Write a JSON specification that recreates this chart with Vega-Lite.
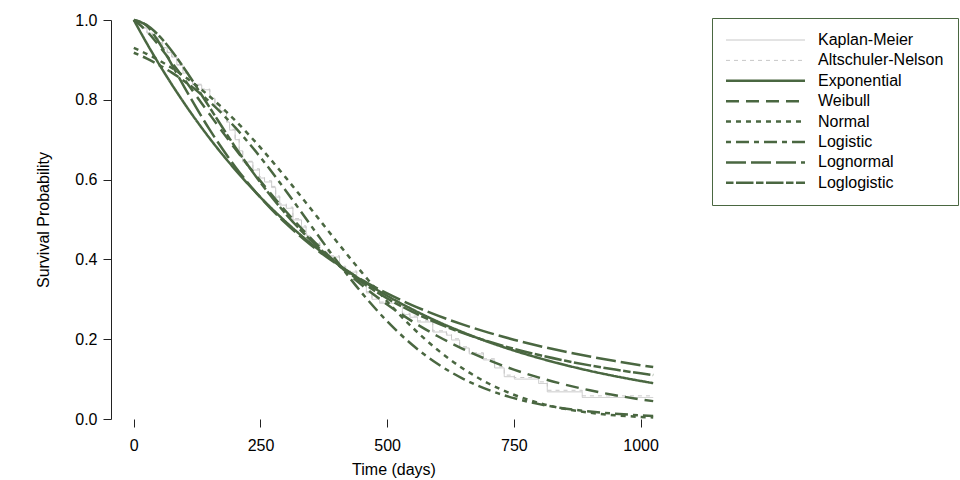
{
  "$schema": "https://vega.github.io/schema/vega-lite/v6.json",
  "width": 565,
  "height": 399,
  "autosize": {"type": "none"},
  "padding": {"left": 111, "top": 20, "right": 284, "bottom": 61},
  "config": {
    "view": {"stroke": null},
    "font": "Liberation Sans",
    "axis": {
      "grid": false,
      "domainColor": "#222",
      "tickColor": "#222",
      "tickSize": 8,
      "labelFontSize": 16,
      "labelColor": "#000",
      "titleFontSize": 16,
      "titleFontWeight": "normal",
      "titleColor": "#000"
    },
    "legend": {
      "orient": "none",
      "legendX": 601,
      "legendY": -2,
      "padding": 14,
      "rowPadding": 4.4,
      "symbolSize": 100,
      "symbolOffset": 31.5,
      "labelOffset": 44.5,
      "labelFontSize": 16,
      "labelColor": "#000",
      "labelLimit": 300,
      "strokeColor": "#4a6741"
    }
  },
  "datasets": {
    "km": [
      {"m": "Kaplan-Meier", "t": 0, "s": 1.0},
      {"m": "Kaplan-Meier", "t": 5, "s": 0.99},
      {"m": "Kaplan-Meier", "t": 15, "s": 0.98},
      {"m": "Kaplan-Meier", "t": 26, "s": 0.967},
      {"m": "Kaplan-Meier", "t": 37, "s": 0.955},
      {"m": "Kaplan-Meier", "t": 48, "s": 0.942},
      {"m": "Kaplan-Meier", "t": 57, "s": 0.93},
      {"m": "Kaplan-Meier", "t": 66, "s": 0.918},
      {"m": "Kaplan-Meier", "t": 75, "s": 0.907},
      {"m": "Kaplan-Meier", "t": 85, "s": 0.887},
      {"m": "Kaplan-Meier", "t": 97, "s": 0.867},
      {"m": "Kaplan-Meier", "t": 108, "s": 0.85},
      {"m": "Kaplan-Meier", "t": 116, "s": 0.837},
      {"m": "Kaplan-Meier", "t": 134, "s": 0.825},
      {"m": "Kaplan-Meier", "t": 150, "s": 0.804},
      {"m": "Kaplan-Meier", "t": 160, "s": 0.787},
      {"m": "Kaplan-Meier", "t": 170, "s": 0.77},
      {"m": "Kaplan-Meier", "t": 183, "s": 0.744},
      {"m": "Kaplan-Meier", "t": 189, "s": 0.724},
      {"m": "Kaplan-Meier", "t": 200, "s": 0.7},
      {"m": "Kaplan-Meier", "t": 208, "s": 0.672},
      {"m": "Kaplan-Meier", "t": 215, "s": 0.644},
      {"m": "Kaplan-Meier", "t": 235, "s": 0.624},
      {"m": "Kaplan-Meier", "t": 248, "s": 0.604},
      {"m": "Kaplan-Meier", "t": 258, "s": 0.594},
      {"m": "Kaplan-Meier", "t": 272, "s": 0.58},
      {"m": "Kaplan-Meier", "t": 280, "s": 0.556},
      {"m": "Kaplan-Meier", "t": 288, "s": 0.536},
      {"m": "Kaplan-Meier", "t": 301, "s": 0.528},
      {"m": "Kaplan-Meier", "t": 314, "s": 0.499},
      {"m": "Kaplan-Meier", "t": 331, "s": 0.481},
      {"m": "Kaplan-Meier", "t": 340, "s": 0.46},
      {"m": "Kaplan-Meier", "t": 347, "s": 0.44},
      {"m": "Kaplan-Meier", "t": 367, "s": 0.418},
      {"m": "Kaplan-Meier", "t": 386, "s": 0.406},
      {"m": "Kaplan-Meier", "t": 406, "s": 0.38},
      {"m": "Kaplan-Meier", "t": 418, "s": 0.368},
      {"m": "Kaplan-Meier", "t": 440, "s": 0.345},
      {"m": "Kaplan-Meier", "t": 459, "s": 0.316},
      {"m": "Kaplan-Meier", "t": 470, "s": 0.3},
      {"m": "Kaplan-Meier", "t": 485, "s": 0.29},
      {"m": "Kaplan-Meier", "t": 530, "s": 0.262},
      {"m": "Kaplan-Meier", "t": 545, "s": 0.255},
      {"m": "Kaplan-Meier", "t": 560, "s": 0.243},
      {"m": "Kaplan-Meier", "t": 590, "s": 0.218},
      {"m": "Kaplan-Meier", "t": 617, "s": 0.21},
      {"m": "Kaplan-Meier", "t": 627, "s": 0.198},
      {"m": "Kaplan-Meier", "t": 643, "s": 0.178},
      {"m": "Kaplan-Meier", "t": 662, "s": 0.163},
      {"m": "Kaplan-Meier", "t": 690, "s": 0.148},
      {"m": "Kaplan-Meier", "t": 712, "s": 0.128},
      {"m": "Kaplan-Meier", "t": 731, "s": 0.106},
      {"m": "Kaplan-Meier", "t": 751, "s": 0.1},
      {"m": "Kaplan-Meier", "t": 799, "s": 0.089},
      {"m": "Kaplan-Meier", "t": 816, "s": 0.068},
      {"m": "Kaplan-Meier", "t": 885, "s": 0.054},
      {"m": "Kaplan-Meier", "t": 1025, "s": 0.054},
      {"m": "Altschuler-Nelson", "t": 0, "s": 1.0},
      {"m": "Altschuler-Nelson", "t": 5, "s": 0.99},
      {"m": "Altschuler-Nelson", "t": 15, "s": 0.98},
      {"m": "Altschuler-Nelson", "t": 26, "s": 0.968},
      {"m": "Altschuler-Nelson", "t": 37, "s": 0.956},
      {"m": "Altschuler-Nelson", "t": 48, "s": 0.943},
      {"m": "Altschuler-Nelson", "t": 57, "s": 0.931},
      {"m": "Altschuler-Nelson", "t": 66, "s": 0.919},
      {"m": "Altschuler-Nelson", "t": 75, "s": 0.908},
      {"m": "Altschuler-Nelson", "t": 85, "s": 0.888},
      {"m": "Altschuler-Nelson", "t": 97, "s": 0.868},
      {"m": "Altschuler-Nelson", "t": 108, "s": 0.851},
      {"m": "Altschuler-Nelson", "t": 116, "s": 0.839},
      {"m": "Altschuler-Nelson", "t": 134, "s": 0.827},
      {"m": "Altschuler-Nelson", "t": 150, "s": 0.806},
      {"m": "Altschuler-Nelson", "t": 160, "s": 0.789},
      {"m": "Altschuler-Nelson", "t": 170, "s": 0.772},
      {"m": "Altschuler-Nelson", "t": 183, "s": 0.746},
      {"m": "Altschuler-Nelson", "t": 189, "s": 0.726},
      {"m": "Altschuler-Nelson", "t": 200, "s": 0.702},
      {"m": "Altschuler-Nelson", "t": 208, "s": 0.674},
      {"m": "Altschuler-Nelson", "t": 215, "s": 0.646},
      {"m": "Altschuler-Nelson", "t": 235, "s": 0.627},
      {"m": "Altschuler-Nelson", "t": 248, "s": 0.607},
      {"m": "Altschuler-Nelson", "t": 258, "s": 0.597},
      {"m": "Altschuler-Nelson", "t": 272, "s": 0.583},
      {"m": "Altschuler-Nelson", "t": 280, "s": 0.559},
      {"m": "Altschuler-Nelson", "t": 288, "s": 0.539},
      {"m": "Altschuler-Nelson", "t": 301, "s": 0.531},
      {"m": "Altschuler-Nelson", "t": 314, "s": 0.502},
      {"m": "Altschuler-Nelson", "t": 331, "s": 0.484},
      {"m": "Altschuler-Nelson", "t": 340, "s": 0.463},
      {"m": "Altschuler-Nelson", "t": 347, "s": 0.443},
      {"m": "Altschuler-Nelson", "t": 367, "s": 0.421},
      {"m": "Altschuler-Nelson", "t": 386, "s": 0.409},
      {"m": "Altschuler-Nelson", "t": 406, "s": 0.383},
      {"m": "Altschuler-Nelson", "t": 418, "s": 0.371},
      {"m": "Altschuler-Nelson", "t": 440, "s": 0.348},
      {"m": "Altschuler-Nelson", "t": 459, "s": 0.319},
      {"m": "Altschuler-Nelson", "t": 470, "s": 0.303},
      {"m": "Altschuler-Nelson", "t": 485, "s": 0.293},
      {"m": "Altschuler-Nelson", "t": 530, "s": 0.265},
      {"m": "Altschuler-Nelson", "t": 545, "s": 0.258},
      {"m": "Altschuler-Nelson", "t": 560, "s": 0.246},
      {"m": "Altschuler-Nelson", "t": 590, "s": 0.221},
      {"m": "Altschuler-Nelson", "t": 617, "s": 0.213},
      {"m": "Altschuler-Nelson", "t": 627, "s": 0.201},
      {"m": "Altschuler-Nelson", "t": 643, "s": 0.181},
      {"m": "Altschuler-Nelson", "t": 662, "s": 0.166},
      {"m": "Altschuler-Nelson", "t": 690, "s": 0.151},
      {"m": "Altschuler-Nelson", "t": 712, "s": 0.131},
      {"m": "Altschuler-Nelson", "t": 731, "s": 0.11},
      {"m": "Altschuler-Nelson", "t": 751, "s": 0.104},
      {"m": "Altschuler-Nelson", "t": 799, "s": 0.093},
      {"m": "Altschuler-Nelson", "t": 816, "s": 0.072},
      {"m": "Altschuler-Nelson", "t": 885, "s": 0.058},
      {"m": "Altschuler-Nelson", "t": 1025, "s": 0.058}
    ],
    "fit": [
      {"m": "Exponential", "t": 0, "s": 1.0},
      {"m": "Exponential", "t": 25, "s": 0.9429},
      {"m": "Exponential", "t": 50, "s": 0.8891},
      {"m": "Exponential", "t": 75, "s": 0.8384},
      {"m": "Exponential", "t": 100, "s": 0.7906},
      {"m": "Exponential", "t": 150, "s": 0.7029},
      {"m": "Exponential", "t": 200, "s": 0.625},
      {"m": "Exponential", "t": 250, "s": 0.5557},
      {"m": "Exponential", "t": 300, "s": 0.4941},
      {"m": "Exponential", "t": 350, "s": 0.4393},
      {"m": "Exponential", "t": 400, "s": 0.3906},
      {"m": "Exponential", "t": 450, "s": 0.3473},
      {"m": "Exponential", "t": 500, "s": 0.3088},
      {"m": "Exponential", "t": 550, "s": 0.2746},
      {"m": "Exponential", "t": 600, "s": 0.2441},
      {"m": "Exponential", "t": 650, "s": 0.2171},
      {"m": "Exponential", "t": 700, "s": 0.193},
      {"m": "Exponential", "t": 750, "s": 0.1716},
      {"m": "Exponential", "t": 800, "s": 0.1526},
      {"m": "Exponential", "t": 850, "s": 0.1357},
      {"m": "Exponential", "t": 900, "s": 0.1206},
      {"m": "Exponential", "t": 950, "s": 0.1073},
      {"m": "Exponential", "t": 1000, "s": 0.0954},
      {"m": "Exponential", "t": 1025, "s": 0.0899},
      {"m": "Weibull", "t": 0, "s": 1.0},
      {"m": "Weibull", "t": 25, "s": 0.9726},
      {"m": "Weibull", "t": 50, "s": 0.9352},
      {"m": "Weibull", "t": 75, "s": 0.8939},
      {"m": "Weibull", "t": 100, "s": 0.8508},
      {"m": "Weibull", "t": 150, "s": 0.763},
      {"m": "Weibull", "t": 200, "s": 0.6772},
      {"m": "Weibull", "t": 250, "s": 0.5961},
      {"m": "Weibull", "t": 300, "s": 0.5208},
      {"m": "Weibull", "t": 350, "s": 0.4523},
      {"m": "Weibull", "t": 400, "s": 0.3907},
      {"m": "Weibull", "t": 450, "s": 0.3357},
      {"m": "Weibull", "t": 500, "s": 0.2871},
      {"m": "Weibull", "t": 550, "s": 0.2445},
      {"m": "Weibull", "t": 600, "s": 0.2074},
      {"m": "Weibull", "t": 650, "s": 0.1753},
      {"m": "Weibull", "t": 700, "s": 0.1476},
      {"m": "Weibull", "t": 750, "s": 0.1239},
      {"m": "Weibull", "t": 800, "s": 0.1036},
      {"m": "Weibull", "t": 850, "s": 0.0865},
      {"m": "Weibull", "t": 900, "s": 0.0719},
      {"m": "Weibull", "t": 950, "s": 0.0596},
      {"m": "Weibull", "t": 1000, "s": 0.0493},
      {"m": "Weibull", "t": 1025, "s": 0.0448},
      {"m": "Normal", "t": 0, "s": 0.93},
      {"m": "Normal", "t": 25, "s": 0.9154},
      {"m": "Normal", "t": 50, "s": 0.8987},
      {"m": "Normal", "t": 75, "s": 0.8797},
      {"m": "Normal", "t": 100, "s": 0.8583},
      {"m": "Normal", "t": 150, "s": 0.8081},
      {"m": "Normal", "t": 200, "s": 0.7484},
      {"m": "Normal", "t": 250, "s": 0.68},
      {"m": "Normal", "t": 300, "s": 0.6049},
      {"m": "Normal", "t": 350, "s": 0.5257},
      {"m": "Normal", "t": 400, "s": 0.4455},
      {"m": "Normal", "t": 450, "s": 0.3674},
      {"m": "Normal", "t": 500, "s": 0.2945},
      {"m": "Normal", "t": 550, "s": 0.2291},
      {"m": "Normal", "t": 600, "s": 0.1727},
      {"m": "Normal", "t": 650, "s": 0.1261},
      {"m": "Normal", "t": 700, "s": 0.089},
      {"m": "Normal", "t": 750, "s": 0.0608},
      {"m": "Normal", "t": 800, "s": 0.0401},
      {"m": "Normal", "t": 850, "s": 0.0255},
      {"m": "Normal", "t": 900, "s": 0.0157},
      {"m": "Normal", "t": 950, "s": 0.0093},
      {"m": "Normal", "t": 1000, "s": 0.0053},
      {"m": "Normal", "t": 1025, "s": 0.0039},
      {"m": "Logistic", "t": 0, "s": 0.9179},
      {"m": "Logistic", "t": 25, "s": 0.9037},
      {"m": "Logistic", "t": 50, "s": 0.8871},
      {"m": "Logistic", "t": 75, "s": 0.8681},
      {"m": "Logistic", "t": 100, "s": 0.8464},
      {"m": "Logistic", "t": 150, "s": 0.7946},
      {"m": "Logistic", "t": 200, "s": 0.7308},
      {"m": "Logistic", "t": 250, "s": 0.6558},
      {"m": "Logistic", "t": 300, "s": 0.5721},
      {"m": "Logistic", "t": 350, "s": 0.4841},
      {"m": "Logistic", "t": 400, "s": 0.397},
      {"m": "Logistic", "t": 450, "s": 0.316},
      {"m": "Logistic", "t": 500, "s": 0.2449},
      {"m": "Logistic", "t": 550, "s": 0.1854},
      {"m": "Logistic", "t": 600, "s": 0.1377},
      {"m": "Logistic", "t": 650, "s": 0.1008},
      {"m": "Logistic", "t": 700, "s": 0.0729},
      {"m": "Logistic", "t": 750, "s": 0.0523},
      {"m": "Logistic", "t": 800, "s": 0.0373},
      {"m": "Logistic", "t": 850, "s": 0.0265},
      {"m": "Logistic", "t": 900, "s": 0.0187},
      {"m": "Logistic", "t": 950, "s": 0.0132},
      {"m": "Logistic", "t": 1000, "s": 0.0093},
      {"m": "Logistic", "t": 1025, "s": 0.0078},
      {"m": "Lognormal", "t": 0, "s": 1.0},
      {"m": "Lognormal", "t": 25, "s": 0.9862},
      {"m": "Lognormal", "t": 50, "s": 0.943},
      {"m": "Lognormal", "t": 75, "s": 0.8883},
      {"m": "Lognormal", "t": 100, "s": 0.8314},
      {"m": "Lognormal", "t": 150, "s": 0.7245},
      {"m": "Lognormal", "t": 200, "s": 0.6325},
      {"m": "Lognormal", "t": 250, "s": 0.555},
      {"m": "Lognormal", "t": 300, "s": 0.4901},
      {"m": "Lognormal", "t": 350, "s": 0.4353},
      {"m": "Lognormal", "t": 400, "s": 0.3887},
      {"m": "Lognormal", "t": 450, "s": 0.3489},
      {"m": "Lognormal", "t": 500, "s": 0.3147},
      {"m": "Lognormal", "t": 550, "s": 0.285},
      {"m": "Lognormal", "t": 600, "s": 0.2591},
      {"m": "Lognormal", "t": 650, "s": 0.2365},
      {"m": "Lognormal", "t": 700, "s": 0.2165},
      {"m": "Lognormal", "t": 750, "s": 0.1988},
      {"m": "Lognormal", "t": 800, "s": 0.183},
      {"m": "Lognormal", "t": 850, "s": 0.169},
      {"m": "Lognormal", "t": 900, "s": 0.1564},
      {"m": "Lognormal", "t": 950, "s": 0.1451},
      {"m": "Lognormal", "t": 1000, "s": 0.1349},
      {"m": "Lognormal", "t": 1025, "s": 0.1301},
      {"m": "Loglogistic", "t": 0, "s": 1.0},
      {"m": "Loglogistic", "t": 25, "s": 0.9878},
      {"m": "Loglogistic", "t": 50, "s": 0.9602},
      {"m": "Loglogistic", "t": 75, "s": 0.9224},
      {"m": "Loglogistic", "t": 100, "s": 0.878},
      {"m": "Loglogistic", "t": 150, "s": 0.78},
      {"m": "Loglogistic", "t": 200, "s": 0.6821},
      {"m": "Loglogistic", "t": 250, "s": 0.5924},
      {"m": "Loglogistic", "t": 300, "s": 0.5139},
      {"m": "Loglogistic", "t": 350, "s": 0.4468},
      {"m": "Loglogistic", "t": 400, "s": 0.3901},
      {"m": "Loglogistic", "t": 450, "s": 0.3425},
      {"m": "Loglogistic", "t": 500, "s": 0.3023},
      {"m": "Loglogistic", "t": 550, "s": 0.2684},
      {"m": "Loglogistic", "t": 600, "s": 0.2397},
      {"m": "Loglogistic", "t": 650, "s": 0.2151},
      {"m": "Loglogistic", "t": 700, "s": 0.1941},
      {"m": "Loglogistic", "t": 750, "s": 0.1759},
      {"m": "Loglogistic", "t": 800, "s": 0.1602},
      {"m": "Loglogistic", "t": 850, "s": 0.1464},
      {"m": "Loglogistic", "t": 900, "s": 0.1344},
      {"m": "Loglogistic", "t": 950, "s": 0.1238},
      {"m": "Loglogistic", "t": 1000, "s": 0.1144},
      {"m": "Loglogistic", "t": 1025, "s": 0.1101}
    ]
  },
  "encoding": {
    "x": {
      "field": "t",
      "type": "quantitative",
      "scale": {"domain": [-45, 1070], "nice": false, "zero": false},
      "axis": {
        "values": [0, 250, 500, 750, 1000],
        "format": "d",
        "domain": false,
        "title": "Time (days)",
        "labelPadding": 10,
        "titlePadding": 8
      }
    },
    "y": {
      "field": "s",
      "type": "quantitative",
      "scale": {"domain": [0, 1], "nice": false},
      "axis": {
        "values": [0, 0.2, 0.4, 0.6, 0.8, 1],
        "format": ".1f",
        "title": "Survival Probability",
        "labelPadding": 6,
        "titlePadding": 23
      }
    },
    "color": {
      "field": "m", "type": "nominal",
      "scale": {
        "domain": ["Kaplan-Meier", "Altschuler-Nelson", "Exponential", "Weibull", "Normal", "Logistic", "Lognormal", "Loglogistic"],
        "range": ["#c8c8c8", "#c8c8c8", "#4a6741", "#4a6741", "#4a6741", "#4a6741", "#4a6741", "#4a6741"]
      },
      "legend": {
        "title": null,
        "symbolType": "M-7.9,0H7.9",
        "encode": {
          "symbols": {
            "update": {
              "strokeWidth": {"signal": "datum.value === 'Kaplan-Meier' || datum.value === 'Altschuler-Nelson' ? 1 : 2.5"}
            }
          }
        }
      }
    },
    "strokeDash": {
      "field": "m", "type": "nominal",
      "scale": {
        "domain": ["Kaplan-Meier", "Altschuler-Nelson", "Exponential", "Weibull", "Normal", "Logistic", "Lognormal", "Loglogistic"],
        "range": [[1, 0], [4, 4], [1, 0], [13, 7], [5, 5], [5, 5, 13, 5], [20, 5], [7.5, 2.5, 17.5, 2.5]]
      },
      "legend": {
        "title": null,
        "symbolType": "M-7.9,0H7.9",
        "encode": {
          "symbols": {
            "update": {
              "strokeWidth": {"signal": "datum.value === 'Kaplan-Meier' || datum.value === 'Altschuler-Nelson' ? 1 : 2.5"}
            }
          }
        }
      }
    }
  },
  "layer": [
    {
      "data": {"values": [{"t": 0, "t2": 1000}]},
      "mark": {"type": "rule", "color": "#222", "strokeWidth": 1},
      "encoding": {
        "x2": {"field": "t2"},
        "y": {"datum": 0},
        "color": {"value": "#222"},
        "strokeDash": {"value": [1, 0]}
      }
    },
    {
      "data": {"name": "km"},
      "mark": {"type": "line", "interpolate": "step-after", "strokeWidth": 1}
    },
    {
      "data": {"name": "fit"},
      "mark": {"type": "line", "interpolate": "monotone", "strokeWidth": 2.5}
    }
  ]
}
